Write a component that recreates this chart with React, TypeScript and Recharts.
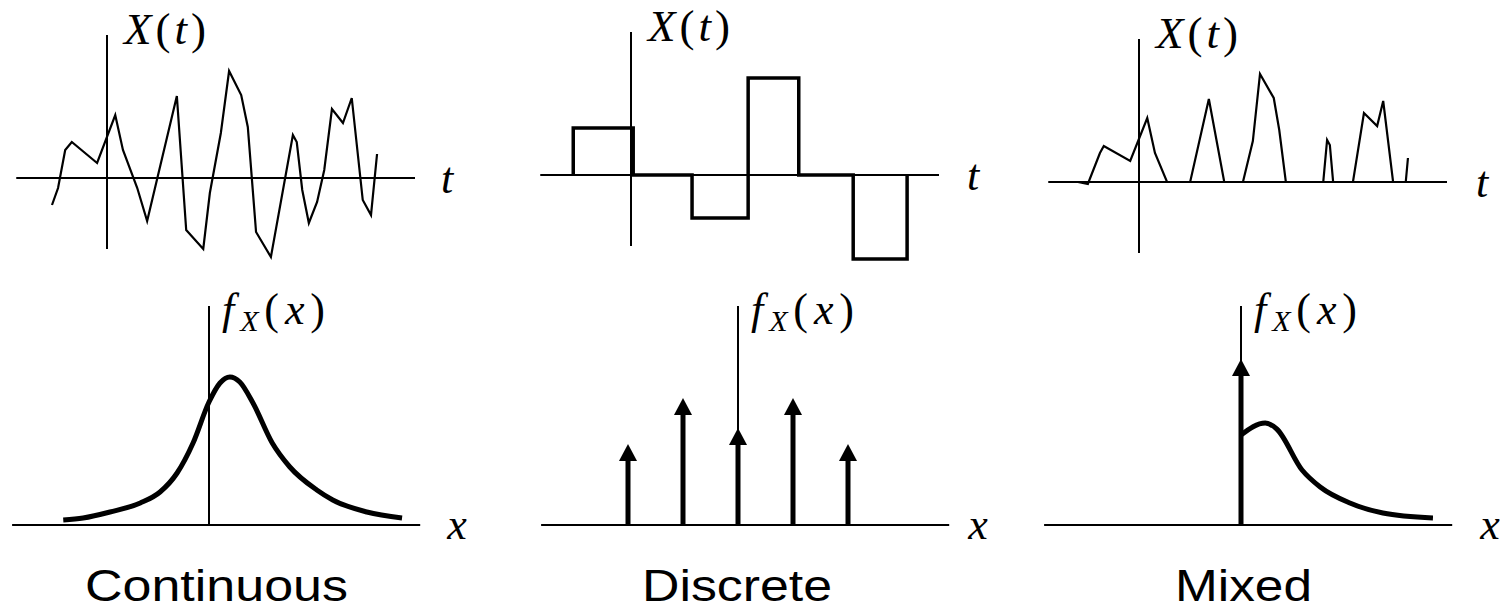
import React from "react";
import { LineChart, Line, XAxis, YAxis, ReferenceLine, ReferenceDot } from "recharts";

// ---- top row: sample paths X(t) (t unit = 55px, X unit = 50px) ----
const T_AXIS = [-1.65, 5.6];
const X_AXIS = [-1.42, 2.86];

const contT = [-1.0, -0.89, -0.76, -0.64, -0.18, 0.15, 0.29, 0.55, 0.73, 1.27, 1.44, 1.75, 1.87, 2.07, 2.22, 2.44, 2.56, 2.71, 2.98, 3.38, 3.45, 3.55, 3.67, 3.82, 3.95, 4.09, 4.29, 4.45, 4.65, 4.8, 4.91];
const contX = [-0.54, -0.2, 0.56, 0.72, 0.3, 1.26, 0.56, -0.2, -0.86, 1.64, -1.04, -1.42, -0.3, 0.9, 2.14, 1.66, 1.02, -1.08, -1.58, 0.86, 0.72, -0.24, -0.9, -0.48, 0.16, 1.38, 1.1, 1.6, -0.44, -0.74, 0.48];

const stepT = [-1.05, -1.05, 0.04, 1.11, 2.13, 3.05, 4.04, 5.02];
const stepX = [0, 0.94, 0, -0.86, 1.94, 0, -1.68, 0];

const mixT = [-1.11, -0.93, -0.71, -0.64, -0.16, 0.15, 0.29, 0.51, 0.93, 1.27, 1.55, 1.89, 2.07, 2.2, 2.45, 2.55, 2.67, 3.35, 3.42, 3.47, 3.53, 3.89, 4.09, 4.33, 4.44, 4.62, 4.85, 4.89];
const mixX = [0, -0.04, 0.58, 0.72, 0.42, 1.28, 0.58, 0, 0, 1.66, 0, 0, 0.82, 2.16, 1.68, 1.04, 0, 0, 0.84, 0.74, 0, 0, 1.38, 1.12, 1.62, 0, 0, 0.48];

// ---- bottom row: densities f_X(x) (x unit = 55px, f unit = 100px) ----
const XX_AXIS = [-3.58, 3.84];
const F_TOP = 2.19;

const pdfX = [-2.65, -2.29, -1.8, -1.25, -0.89, -0.58, -0.29, 0, 0.2, 0.38, 0.56, 0.8, 1.15, 1.47, 1.96, 2.25, 2.87, 3.51];
const pdfF = [0.05, 0.07, 0.13, 0.22, 0.33, 0.52, 0.82, 1.23, 1.42, 1.48, 1.43, 1.22, 0.82, 0.58, 0.35, 0.25, 0.13, 0.07];

const impulseX = [-2, -1, 0, 1, 2];
const impulseH = [0.64, 1.1, 0.8, 1.1, 0.64];

const mixedImpulseX = [0];
const mixedImpulseH = [1.49];
const mixedPdfX = [0, 0.44, 0.65, 1.11, 1.44, 1.98, 2.58, 3.49];
const mixedPdfF = [0.9, 1.02, 0.96, 0.55, 0.38, 0.22, 0.12, 0.07];

const TITLES = ["Continuous", "Discrete", "Mixed"];

const SERIF = "'Liberation Serif', 'Times New Roman', serif";
const SANS = "'Liberation Sans', Arial, sans-serif";

type Layout = { left: number; top: number; width: number; height: number; ox: number; oy: number; sx: number; sy: number };

const L1: Layout = { left: 0, top: 0, width: 500, height: 270, ox: 107, oy: 178, sx: 55, sy: 50 };
const L2: Layout = { left: 510, top: 0, width: 500, height: 270, ox: 631, oy: 175, sx: 55, sy: 50 };
const L3: Layout = { left: 1020, top: 0, width: 481, height: 270, ox: 1139, oy: 182, sx: 55, sy: 50 };
const L4: Layout = { left: 0, top: 270, width: 500, height: 341, ox: 209, oy: 525, sx: 55, sy: 100 };
const L5: Layout = { left: 510, top: 270, width: 500, height: 341, ox: 738, oy: 525, sx: 55, sy: 100 };
const L6: Layout = { left: 1020, top: 270, width: 481, height: 341, ox: 1241, oy: 525, sx: 55, sy: 100 };

const rows = (xs: number[], ys: number[]) => xs.map((x, i) => ({ x, v: ys[i] }));

function Panel({ l, data, children }: { l: Layout; data: any[]; children: React.ReactNode }) {
  const lx = l.ox - l.left;
  const ly = l.oy - l.top;
  const domX = [-lx / l.sx, (l.width - lx) / l.sx];
  const domY = [(ly - l.height) / l.sy, ly / l.sy];
  return (
    <div style={{ position: "absolute", left: l.left, top: l.top }}>
      <LineChart width={l.width} height={l.height} data={data} margin={{ top: 0, right: 0, bottom: 0, left: 0 }}>
        <XAxis type="number" dataKey="x" domain={domX} hide allowDataOverflow />
        <YAxis type="number" domain={domY} hide allowDataOverflow />
        {children}
      </LineChart>
    </div>
  );
}

const xtLabel = (p: any) => (
  <text x={p.cx + 17} y={p.cy + 9} fontFamily={SERIF} fontSize={45} textLength={82} lengthAdjust="spacing" fill="#000">
    <tspan fontStyle="italic">X</tspan>
    <tspan>(</tspan>
    <tspan fontStyle="italic">t</tspan>
    <tspan>)</tspan>
  </text>
);

const fxLabel = (p: any) => (
  <text x={p.cx + 13} y={p.cy + 18} fontFamily={SERIF} fontSize={44} textLength={103} lengthAdjust="spacing" fill="#000">
    <tspan fontStyle="italic">f</tspan>
    <tspan fontStyle="italic" fontSize={30} dy={7}>X</tspan>
    <tspan dy={-7}>(</tspan>
    <tspan fontStyle="italic">x</tspan>
    <tspan>)</tspan>
  </text>
);

const varLabel = (s: string, dx: number, dy: number) => (p: any) => (
  <text x={p.cx + dx} y={p.cy + dy} fontFamily={SERIF} fontSize={44} fontStyle="italic" fill="#000">
    {s}
  </text>
);

const titleLabel = (s: string, dx: number, w: number) => (p: any) => (
  <text x={p.cx + dx} y={p.cy + 76} fontFamily={SANS} fontSize={44} textLength={w} lengthAdjust="spacingAndGlyphs" fill="#000">
    {s}
  </text>
);

const arrowHead = (p: any) => (
  <polygon points={`${p.cx},${p.cy - 17} ${p.cx - 9},${p.cy} ${p.cx + 9},${p.cy}`} fill="#000" />
);

function topAxes(tDx: number) {
  return [
    <ReferenceLine key="h" segment={[{ x: T_AXIS[0], y: 0 }, { x: T_AXIS[1], y: 0 }]} stroke="#000" strokeWidth={2} />,
    <ReferenceLine key="v" segment={[{ x: 0, y: X_AXIS[0] }, { x: 0, y: X_AXIS[1] }]} stroke="#000" strokeWidth={2} />,
    <ReferenceDot key="lx" x={0} y={X_AXIS[1]} r={0} shape={xtLabel} />,
    <ReferenceDot key="lt" x={T_AXIS[1]} y={0} r={0} shape={varLabel("t", tDx, 15)} />,
  ];
}

function bottomAxes(xDx: number, title: string, titleDx: number, titleW: number) {
  return [
    <ReferenceLine key="h" segment={[{ x: XX_AXIS[0], y: 0 }, { x: XX_AXIS[1], y: 0 }]} stroke="#000" strokeWidth={2} />,
    <ReferenceLine key="v" segment={[{ x: 0, y: 0 }, { x: 0, y: F_TOP }]} stroke="#000" strokeWidth={2} />,
    <ReferenceDot key="lf" x={0} y={F_TOP} r={0} shape={fxLabel} />,
    <ReferenceDot key="lx" x={XX_AXIS[1]} y={0} r={0} shape={varLabel("x", xDx, 14)} />,
    <ReferenceDot key="ti" x={0} y={0} r={0} shape={titleLabel(title, titleDx, titleW)} />,
  ];
}

function impulses(xs: number[], hs: number[]) {
  return xs.flatMap((x, i) => [
    <ReferenceLine key={`s${i}`} segment={[{ x, y: 0 }, { x, y: hs[i] }]} stroke="#000" strokeWidth={5} />,
    <ReferenceDot key={`a${i}`} x={x} y={hs[i]} r={0} shape={arrowHead} />,
  ]);
}

export default function App() {
  return (
    <div style={{ position: "absolute", left: 0, top: 0, width: 1501, height: 611, background: "#fff", overflow: "hidden" }}>
      <Panel l={L1} data={rows(contT, contX)}>
        {topAxes(26)}
        <Line type="linear" dataKey="v" stroke="#000" strokeWidth={2.2} dot={false} activeDot={false} isAnimationActive={false} />
      </Panel>
      <Panel l={L2} data={rows(stepT, stepX)}>
        {topAxes(28)}
        <Line type="stepAfter" dataKey="v" stroke="#000" strokeWidth={3.5} dot={false} activeDot={false} isAnimationActive={false} />
      </Panel>
      <Panel l={L3} data={rows(mixT, mixX)}>
        {topAxes(29)}
        <Line type="linear" dataKey="v" stroke="#000" strokeWidth={2.2} dot={false} activeDot={false} isAnimationActive={false} />
      </Panel>
      <Panel l={L4} data={rows(pdfX, pdfF)}>
        {bottomAxes(27, TITLES[0], -124, 263)}
        <Line type="monotone" dataKey="v" stroke="#000" strokeWidth={5} dot={false} activeDot={false} isAnimationActive={false} />
      </Panel>
      <Panel l={L5} data={rows(impulseX, impulseH)}>
        {bottomAxes(19, TITLES[1], -96, 190)}
        {impulses(impulseX, impulseH)}
      </Panel>
      <Panel l={L6} data={rows(mixedPdfX, mixedPdfF)}>
        {bottomAxes(28, TITLES[2], -66, 137)}
        {impulses(mixedImpulseX, mixedImpulseH)}
        <Line type="monotone" dataKey="v" stroke="#000" strokeWidth={5} dot={false} activeDot={false} isAnimationActive={false} />
      </Panel>
    </div>
  );
}
